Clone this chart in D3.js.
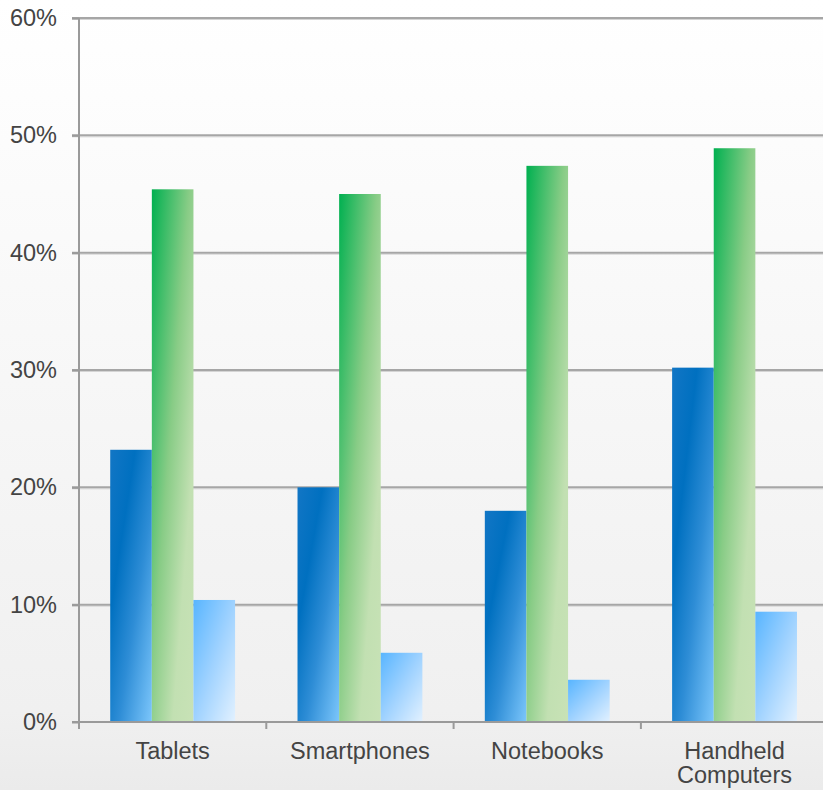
<!DOCTYPE html>
<html>
<head>
<meta charset="utf-8">
<script src="https://cdn.jsdelivr.net/npm/d3@7/dist/d3.min.js"></script>
<style>
  html, body { margin: 0; padding: 0; background: #ffffff; }
  svg { display: block; }
</style>
</head>
<body>
<svg id="chart" width="823" height="790"></svg>
<script>
// Device categories along the x axis (multi-line labels split on "\n")
const categories = ["Tablets", "Smartphones", "Notebooks", "Handheld\nComputers"];
// Three series per category, in percent
const seriesNames = ["A", "B", "C"];
const seriesA = [23.2, 20.0, 18.0, 30.2];
const seriesB = [45.4, 45.0, 47.4, 48.9];
const seriesC = [10.4, 5.9, 3.6, 9.4];
const yTicks = [0, 10, 20, 30, 40, 50, 60];

const seriesValues = [seriesA, seriesB, seriesC];
const rows = categories.map((c, i) => ({
  category: c,
  values: seriesNames.map((s, j) => ({ key: s, value: seriesValues[j][i] }))
}));

const W = 823, H = 790;
const margin = { left: 79, top: 18 };
const svg = d3.select("#chart");
const defs = svg.append("defs");

// Page background: soft vertical fade to light grey
const bg = defs.append("linearGradient").attr("id", "bg")
  .attr("x1", 0).attr("y1", 0).attr("x2", 0).attr("y2", 1);
bg.append("stop").attr("offset", 0).attr("stop-color", "#ffffff");
bg.append("stop").attr("offset", 0.9).attr("stop-color", "#f0f0f0");
bg.append("stop").attr("offset", 1).attr("stop-color", "#ebebeb");
svg.append("rect").attr("width", W).attr("height", H).attr("fill", "url(#bg)");

// Diagonal fills for the bars (top-left dark → bottom-right light)
const fills = {
  A: [[0, "#1276c5"], [0.3, "#0070c0"], [0.6, "#2e8dd6"], [1, "#7cc6fb"]],
  B: [[0, "#00b050"], [0.45, "#88cc86"], [0.75, "#c2e0b2"], [1, "#c8e2b6"]],
  C: [[0, "#58b5ff"], [0.5, "#9fd2ff"], [1, "#e2f1ff"]]
};
Object.entries(fills).forEach(([k, stops]) => {
  const g = defs.append("linearGradient").attr("id", "g" + k)
    .attr("x1", 0).attr("y1", 0).attr("x2", 1).attr("y2", 1);
  stops.forEach(([o, c]) => g.append("stop").attr("offset", o).attr("stop-color", c));
});

const x0 = d3.scaleBand()
  .domain(categories)
  .range([margin.left, margin.left + 4 * 187.3])
  .paddingInner(0).paddingOuter(0);
const x1 = d3.scaleBand()
  .domain(seriesNames)
  .range([0, x0.bandwidth()])
  .paddingInner(0).paddingOuter(0.75);
const y = d3.scaleLinear().domain([0, 60]).range([722, margin.top]);

const textColor = "#444444";
const font = "'Liberation Sans', Arial, sans-serif";
const fontSize = "23.5px";

// Horizontal gridlines
const grid = svg.append("g");
yTicks.filter(t => t > 0).forEach(t => {
  grid.append("line")
    .attr("x1", margin.left - 7).attr("x2", W)
    .attr("y1", y(t) + 1.5).attr("y2", y(t) + 1.5)
    .attr("stroke", "#d4d4d4").attr("stroke-width", 1);
  grid.append("line")
    .attr("x1", margin.left - 7).attr("x2", W)
    .attr("y1", y(t)).attr("y2", y(t))
    .attr("stroke", "#a6a6a6").attr("stroke-width", 2);
});

// Bars
svg.append("g").selectAll("g")
  .data(rows).join("g")
  .attr("transform", d => `translate(${x0(d.category)},0)`)
  .selectAll("rect")
  .data(d => d.values).join("rect")
  .attr("x", d => x1(d.key))
  .attr("width", x1.bandwidth())
  .attr("y", d => y(d.value))
  .attr("height", d => y(0) - y(d.value))
  .attr("fill", d => `url(#g${d.key})`);

// Y axis (line, ticks, labels)
const yAxis = svg.append("g").attr("transform", `translate(${margin.left},0)`)
  .call(d3.axisLeft(y).tickValues(yTicks).tickFormat(d => d + "%")
    .tickSize(7).tickPadding(15));
yAxis.select(".domain").remove();
yAxis.selectAll(".tick line").attr("stroke", "#9a9a9a").attr("stroke-width", 2);
yAxis.selectAll(".tick text")
  .attr("fill", textColor).attr("font-family", font).attr("font-size", fontSize);
svg.append("line")
  .attr("x1", margin.left).attr("x2", margin.left)
  .attr("y1", margin.top).attr("y2", y(0) + 7)
  .attr("stroke", "#9a9a9a").attr("stroke-width", 2);

// X axis baseline and category separators
svg.append("line")
  .attr("x1", margin.left - 7).attr("x2", W)
  .attr("y1", y(0)).attr("y2", y(0))
  .attr("stroke", "#9a9a9a").attr("stroke-width", 2);
categories.slice(1).forEach(c => {
  svg.append("line")
    .attr("x1", x0(c)).attr("x2", x0(c))
    .attr("y1", y(0)).attr("y2", y(0) + 7)
    .attr("stroke", "#9a9a9a").attr("stroke-width", 2);
});

// Category labels
svg.append("g").selectAll("text")
  .data(categories).join("text")
  .attr("x", d => x0(d) + x0.bandwidth() / 2)
  .attr("y", 759)
  .attr("text-anchor", "middle")
  .attr("fill", textColor).attr("font-family", font).attr("font-size", fontSize)
  .selectAll("tspan")
  .data(d => d.split("\n").map(line => ({ line, x: x0(d) + x0.bandwidth() / 2 })))
  .join("tspan")
  .attr("x", d => d.x)
  .attr("dy", (d, i) => i === 0 ? 0 : 24)
  .text(d => d.line);
</script>
</body>
</html>
